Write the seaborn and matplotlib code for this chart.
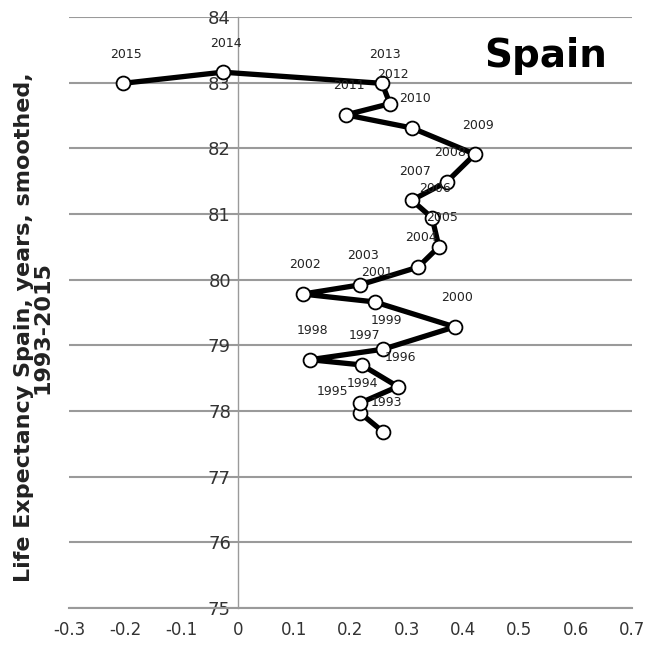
import numpy as np
import pandas as pd
import matplotlib
matplotlib.use('Agg')
import matplotlib.pyplot as plt
import seaborn as sns

# connected scatter, Spain life expectancy vs. yearly change (smoothed)
years = list(range(1993, 2016))
change = [0.258, 0.217, 0.217, 0.284, 0.220, 0.128, 0.258, 0.385, 0.243, 0.115,
          0.217, 0.320, 0.357, 0.345, 0.309, 0.371, 0.421, 0.309, 0.192, 0.270,
          0.256, -0.027, -0.204]
life_exp = [77.68, 77.97, 78.12, 78.37, 78.70, 78.78, 78.94, 79.28, 79.66, 79.78,
            79.92, 80.19, 80.50, 80.94, 81.21, 81.49, 81.91, 82.31, 82.51, 82.68,
            82.99, 83.16, 82.99]
x_ticks = [-0.3, -0.2, -0.1, 0, 0.1, 0.2, 0.3, 0.4, 0.5, 0.6, 0.7]
x_tick_labels = ['-0.3', '-0.2', '-0.1', '0', '0.1', '0.2', '0.3', '0.4', '0.5', '0.6', '0.7']
y_ticks = [75, 76, 77, 78, 79, 80, 81, 82, 83, 84]

df = pd.DataFrame({'year': years, 'change': change, 'le': life_exp})

sns.set_style('white')
plt.rcParams['font.family'] = ['DejaVu Sans']

fig = plt.figure(figsize=(6.57, 6.55), dpi=100)
ax = fig.add_axes([0.105, 0.072, 0.857, 0.902])

sns.lineplot(data=df, x='change', y='le', sort=False, estimator=None,
             color='black', lw=3.8, marker='o', markersize=10,
             markerfacecolor='white', markeredgecolor='black', markeredgewidth=1.3,
             ax=ax, zorder=3)

# year labels above each point; 1995 sits between crowded neighbours
for _, r in df.iterrows():
    off = (2, 21)
    if r['year'] == 1995:
        off = (-20, 8)
    ax.annotate(str(int(r['year'])), (r['change'], r['le']), xytext=off,
                textcoords='offset points', ha='center', va='center',
                fontsize=9, color='#222222', zorder=4)

ax.set_xlim(-0.3, 0.7)
ax.set_ylim(75, 84)
ax.set_xticks(x_ticks)
ax.set_xticklabels(x_tick_labels)
ax.set_yticks(y_ticks)

ax.grid(axis='y', color='#9a9a9a', lw=1.5)
ax.grid(axis='x', visible=False)
for s in ['top', 'right']:
    ax.spines[s].set_visible(False)
ax.spines['left'].set_position(('data', 0))
ax.spines['left'].set_color('#9a9a9a')
ax.spines['left'].set_linewidth(1.0)
ax.spines['bottom'].set_color('#9a9a9a')
ax.spines['bottom'].set_linewidth(1.5)
ax.tick_params(axis='y', length=0, pad=5, labelsize=13, colors='#333333')
ax.tick_params(axis='x', direction='inout', length=7, width=1, color='#9a9a9a',
               pad=6, labelsize=12, labelcolor='#333333')

ax.set_xlabel('')
ax.set_ylabel('')
fig.text(0.05, 0.50, 'Life Expectancy Spain, years, smoothed,\n1993-2015',
         rotation=90, ha='center', va='center', fontsize=16, fontweight='bold',
         color='#222222', linespacing=0.9)

fig.text(0.83, 0.915, 'Spain', ha='center', va='center', fontsize=28,
         fontweight='bold', color='black')

fig.savefig('out.png', dpi=100)
